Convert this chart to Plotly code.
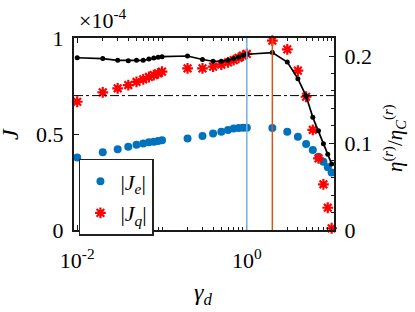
import plotly.graph_objects as go

gamma_d = [0.01, 0.02, 0.03, 0.04, 0.05, 0.06, 0.07, 0.08, 0.09, 0.1,
           0.2, 0.3, 0.4, 0.5, 0.6, 0.7, 0.8, 0.9, 1.0,
           2, 3, 4, 5, 6, 7, 8, 9, 10]

# |J_e| and |J_q| in units of 1e-4
Je = [0.378, 0.405, 0.420, 0.434, 0.444, 0.451, 0.457, 0.460, 0.464, 0.467,
      0.477, 0.490, 0.502, 0.512, 0.521, 0.528, 0.531, 0.533, 0.533,
      0.531, 0.512, 0.486, 0.448, 0.417, 0.382, 0.356, 0.327, 0.300]
Jq = [0.668, 0.717, 0.738, 0.755, 0.771, 0.785, 0.797, 0.807, 0.816, 0.825,
      0.842, 0.842, 0.851, 0.861, 0.873, 0.885, 0.897, 0.908, 0.917,
      0.986, 0.941, 0.830, 0.694, 0.522, 0.373, 0.238, 0.116, 0.009]
eta = [0.198, 0.197, 0.195, 0.1946, 0.195, 0.195, 0.1966, 0.1977, 0.1985, 0.1992,
       0.200, 0.196, 0.194, 0.194, 0.195, 0.197, 0.199, 0.201, 0.202,
       0.204, 0.193, 0.174, 0.154, 0.1295, 0.114, 0.099, 0.087, 0.076]

J_ref = 0.7
gamma_lines = [1, 2]

x_ticks = [0.01, 1]
x_ticktext = ["10<sup>-2</sup>", "10<sup>0</sup>"]
x_minor = [k * 10 ** e for e in (-2, -1, 0) for k in range(2, 10)] + [0.1, 10]

FONT = "Liberation Serif"
AX = "#1a1a1a"
FS = 22

fig = go.Figure()
fig.add_trace(go.Scatter(
    x=gamma_d, y=Je, mode="markers", name="|<i>J</i><sub><i>e</i></sub>|",
    marker=dict(color="#0072BD", size=8), cliponaxis=False))
fig.add_trace(go.Scatter(
    x=gamma_d, y=Jq, mode="markers", name="|<i>J</i><sub><i>q</i></sub>|",
    marker=dict(symbol="asterisk-open", size=9, color="red",
                line=dict(color="red", width=2.2)), cliponaxis=False))
fig.add_trace(go.Scatter(
    x=gamma_d, y=eta, mode="lines+markers", yaxis="y2", showlegend=False,
    line=dict(color="black", width=1.7),
    marker=dict(color="black", size=5), cliponaxis=False))

fig.add_shape(type="line", xref="paper", yref="y", x0=0, x1=1, y0=J_ref, y1=J_ref,
              line=dict(color="black", width=1, dash="dashdot"))
for g, c in zip(gamma_lines, ["#72B2DF", "#D95319"]):
    fig.add_shape(type="line", xref="x", yref="paper", x0=g, x1=g, y0=0, y1=1,
                  line=dict(color=c, width=1.5))

fig.update_layout(
    width=415, height=312,
    margin=dict(l=74, r=81, t=38, b=82),
    paper_bgcolor="white", plot_bgcolor="white",
    font=dict(family=FONT, size=FS, color="black"),
    xaxis=dict(type="log", range=[-2.038, 1.028], showgrid=False, zeroline=False,
               showline=True, linecolor=AX, linewidth=2, mirror="ticks",
               ticks="inside", ticklen=5, tickwidth=1, tickcolor=AX,
               tickvals=x_ticks, ticktext=x_ticktext, ticklabelstandoff=10,
               minor=dict(tickvals=x_minor, ticks="inside", ticklen=3, tickcolor=AX)),
    yaxis=dict(range=[0, 1], showgrid=False, zeroline=False,
               showline=True, linecolor=AX, linewidth=2,
               ticks="inside", ticklen=5, tickcolor=AX,
               tickvals=[0, 0.5, 1], ticktext=["0", "0.5", "1"], ticklabelstandoff=4),
    yaxis2=dict(range=[0, 0.2207], overlaying="y", side="right", showgrid=False,
                zeroline=False, showline=True, linecolor=AX, linewidth=2,
                ticks="inside", ticklen=5, tickcolor=AX,
                tickvals=[0, 0.1, 0.2], ticktext=["0", "0.1", "0.2"], ticklabelstandoff=4,
                minor=dict(dtick=0.02, ticks="inside", ticklen=3, tickcolor=AX)),
    legend=dict(x=0.019, y=0.37, xanchor="left", yanchor="top",
                bgcolor="white", bordercolor="#222", borderwidth=1.5,
                font=dict(family=FONT, size=FS), itemwidth=30),
    showlegend=True,
)

fig.add_annotation(x=(77 - 74) / 260, y=(230 - 35) / 192, xref="paper", yref="paper",
                   xanchor="left", yanchor="bottom", showarrow=False,
                   text="×10<sup>-4</sup>", font=dict(family=FONT, size=FS))
fig.add_annotation(x=(10 - 74) / 260, y=(230 - 134) / 192, xref="paper", yref="paper",
                   xanchor="center", yanchor="middle", showarrow=False, textangle=-90,
                   text="<i>J</i>", font=dict(family=FONT, size=24))
fig.add_annotation(x=(203 - 74) / 260, y=(230 - 294) / 192, xref="paper", yref="paper",
                   xanchor="center", yanchor="middle", showarrow=False,
                   text="<i>γ</i><sub><i>d</i></sub>", font=dict(family=FONT, size=24))
fig.add_annotation(x=(394 - 74) / 260, y=(230 - 138) / 192, xref="paper", yref="paper",
                   xanchor="center", yanchor="middle", showarrow=False, textangle=-90,
                   text="<i>η</i><sup>(<i>r</i>)</sup>/<i>η</i><sub><i>C</i></sub><sup>(<i>r</i>)</sup>",
                   font=dict(family=FONT, size=21))

fig.write_html("out.html", config={"displayModeBar": False},
               post_script="document.body.style.margin='0';")
